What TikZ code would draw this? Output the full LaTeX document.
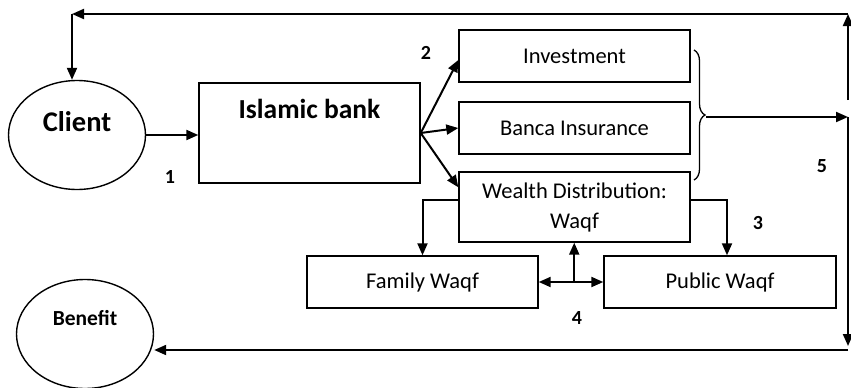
\documentclass[tikz,border=0pt]{standalone}
\usepackage{fontspec}
\setmainfont{Carlito}
\usetikzlibrary{arrows.meta,shapes.geometric,decorations.pathreplacing,calc}

\begin{document}
\begin{tikzpicture}[x=1pt,y=-1pt,
  box/.style={draw, line width=1.4pt, minimum width=231pt, minimum height=52pt, inner sep=0pt, font=\fontsize{22.5}{30}\selectfont},
  party/.style={draw, ellipse, line width=1.4pt, minimum width=137pt, minimum height=109pt, inner sep=0pt},
  flow/.style={line width=2pt, -{Triangle[length=12pt,width=10pt]}},
  both/.style={line width=2pt, {Triangle[length=12pt,width=10pt]}-{Triangle[length=12pt,width=10pt]}},
  num/.style={font=\bfseries\fontsize{20}{24}\selectfont, inner sep=0pt}]
\useasboundingbox (0,0) rectangle (851,388);
% parties
\node[party] (client) at (77,135) {};
\node[font=\bfseries\fontsize{28.5}{30}\selectfont] (clientText) at (77,122) {Client};
\node[party] (benefit) at (85,334) {};
\node[font=\bfseries\fontsize{21.5}{26}\selectfont] (benefitText) at (85,318) {Benefit};
% bank and products
\node[draw, line width=1.4pt, minimum width=221pt, minimum height=100pt] (bank) at (309.5,133) {};
\node[font=\bfseries\fontsize{27.5}{30}\selectfont] (bankText) at (309.5,109) {Islamic bank};
\node[box] (invest) at (574.5,56) {Investment};
\node[box] (banca) at (574.5,128) {Banca Insurance};
\node[box, minimum height=70pt, align=center] (wealth) at (574.5,207) {Wealth Distribution:\\Waqf};
\node[box] (family) at (422.5,282) {Family Waqf};
\node[box, minimum width=232pt] (public) at (720,282) {Public Waqf};
% numbers
\node[num] (one) at (170,177) {1};
\node[num] (two) at (426,53) {2};
\node[num] (three) at (758,223) {3};
\node[num] (four) at (577,318) {4};
\node[num] (five) at (822,166) {5};
% flows
\draw[flow] (client.east) -- (client.east -| bank.west);
\draw[flow] (bank.east) -- ([yshift=-4pt]invest.west);
\draw[flow] (bank.east) -- (banca.west);
\draw[flow] (bank.east) -- ([yshift=-16pt]wealth.north west);
\draw[flow] ([yshift=-29pt]wealth.north west) -| (family.north);
\draw[flow] ([yshift=-29pt]wealth.north east) -| ([xshift=7pt]public.north);
\draw[both] (family.east) -- (public.west);
\coordinate (waqfMid) at ($(family.east)!0.55!(public.west)$);
\draw[flow] (waqfMid) -- (waqfMid |- wealth.south);
% brace and return lines
\draw[decorate, decoration={brace, amplitude=11pt}, line width=1.3pt] (694,50) -- (694,180);
\coordinate (braceTip) at (706,117);
\coordinate (rMid) at (848,117);
\coordinate (rTop) at (848,100);
\coordinate (ne) at (848,14);
\coordinate (nw) at (72,14);
\coordinate (se) at (848,346);
\coordinate (sw) at (848,350);
\draw[flow] (braceTip) -- (rMid);
\draw[flow] (rTop) -- (ne);
\draw[flow] (ne) -- (nw);
\draw[flow] (nw) -- (nw |- client.north);
\draw[flow] (rMid) -- (se);
\draw[flow] (sw) -- (benefit.east |- sw);
\end{tikzpicture}
\end{document}
